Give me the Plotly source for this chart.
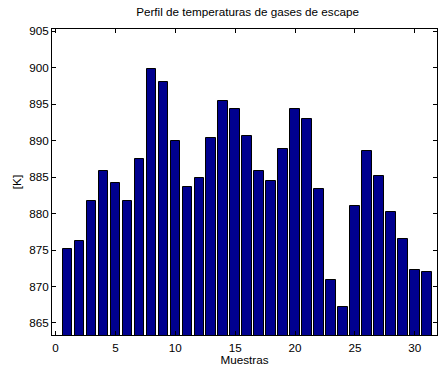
import plotly.graph_objects as go

muestras = list(range(1, 32))
temperaturas = [875.1, 876.2, 881.7, 885.8, 884.2, 881.7, 887.5, 899.8, 898.1, 889.9,
                883.7, 884.9, 890.3, 895.4, 894.3, 890.6, 885.9, 884.4, 888.8, 894.4,
                892.9, 883.3, 870.9, 867.2, 881.0, 888.6, 885.2, 880.2, 876.5, 872.3, 872.0]
x_ticks = [0, 5, 10, 15, 20, 25, 30]
y_ticks = [865, 870, 875, 880, 885, 890, 895, 900, 905]

fig = go.Figure()
fig.add_trace(go.Bar(
    x=muestras, y=temperaturas, width=0.8,
    marker=dict(color="rgb(0,0,143)", line=dict(color="black", width=1)),
))

font = dict(family="Liberation Sans, Arial, sans-serif", size=11.7, color="black")
fig.update_layout(
    width=439, height=366,
    margin=dict(l=52, r=2, t=29, b=31),
    paper_bgcolor="white", plot_bgcolor="white",
    font=font,
    showlegend=False,
    title=dict(text="Perfil de temperaturas de gases de escape", x=0.564, xanchor="center",
               y=1 - 12 / 366, yanchor="middle", font=font),
    bargap=0,
)
fig.update_xaxes(
    range=[-0.3, 31.85], tickvals=x_ticks, ticks="inside", ticklen=4, tickcolor="black",
    showline=True, linecolor="black", linewidth=1, mirror="ticks", showgrid=False,
    zeroline=False, ticklabelstandoff=2,
    title=dict(text="Muestras", standoff=2, font=font),
)
fig.update_yaxes(
    range=[863.35, 905.3], tickvals=y_ticks, ticks="inside", ticklen=4, tickcolor="black",
    showline=True, linecolor="black", linewidth=1, mirror="ticks", showgrid=False,
    zeroline=False,
    title=dict(text="[K]", standoff=5, font=font),
)

fig.write_html("out.html")
